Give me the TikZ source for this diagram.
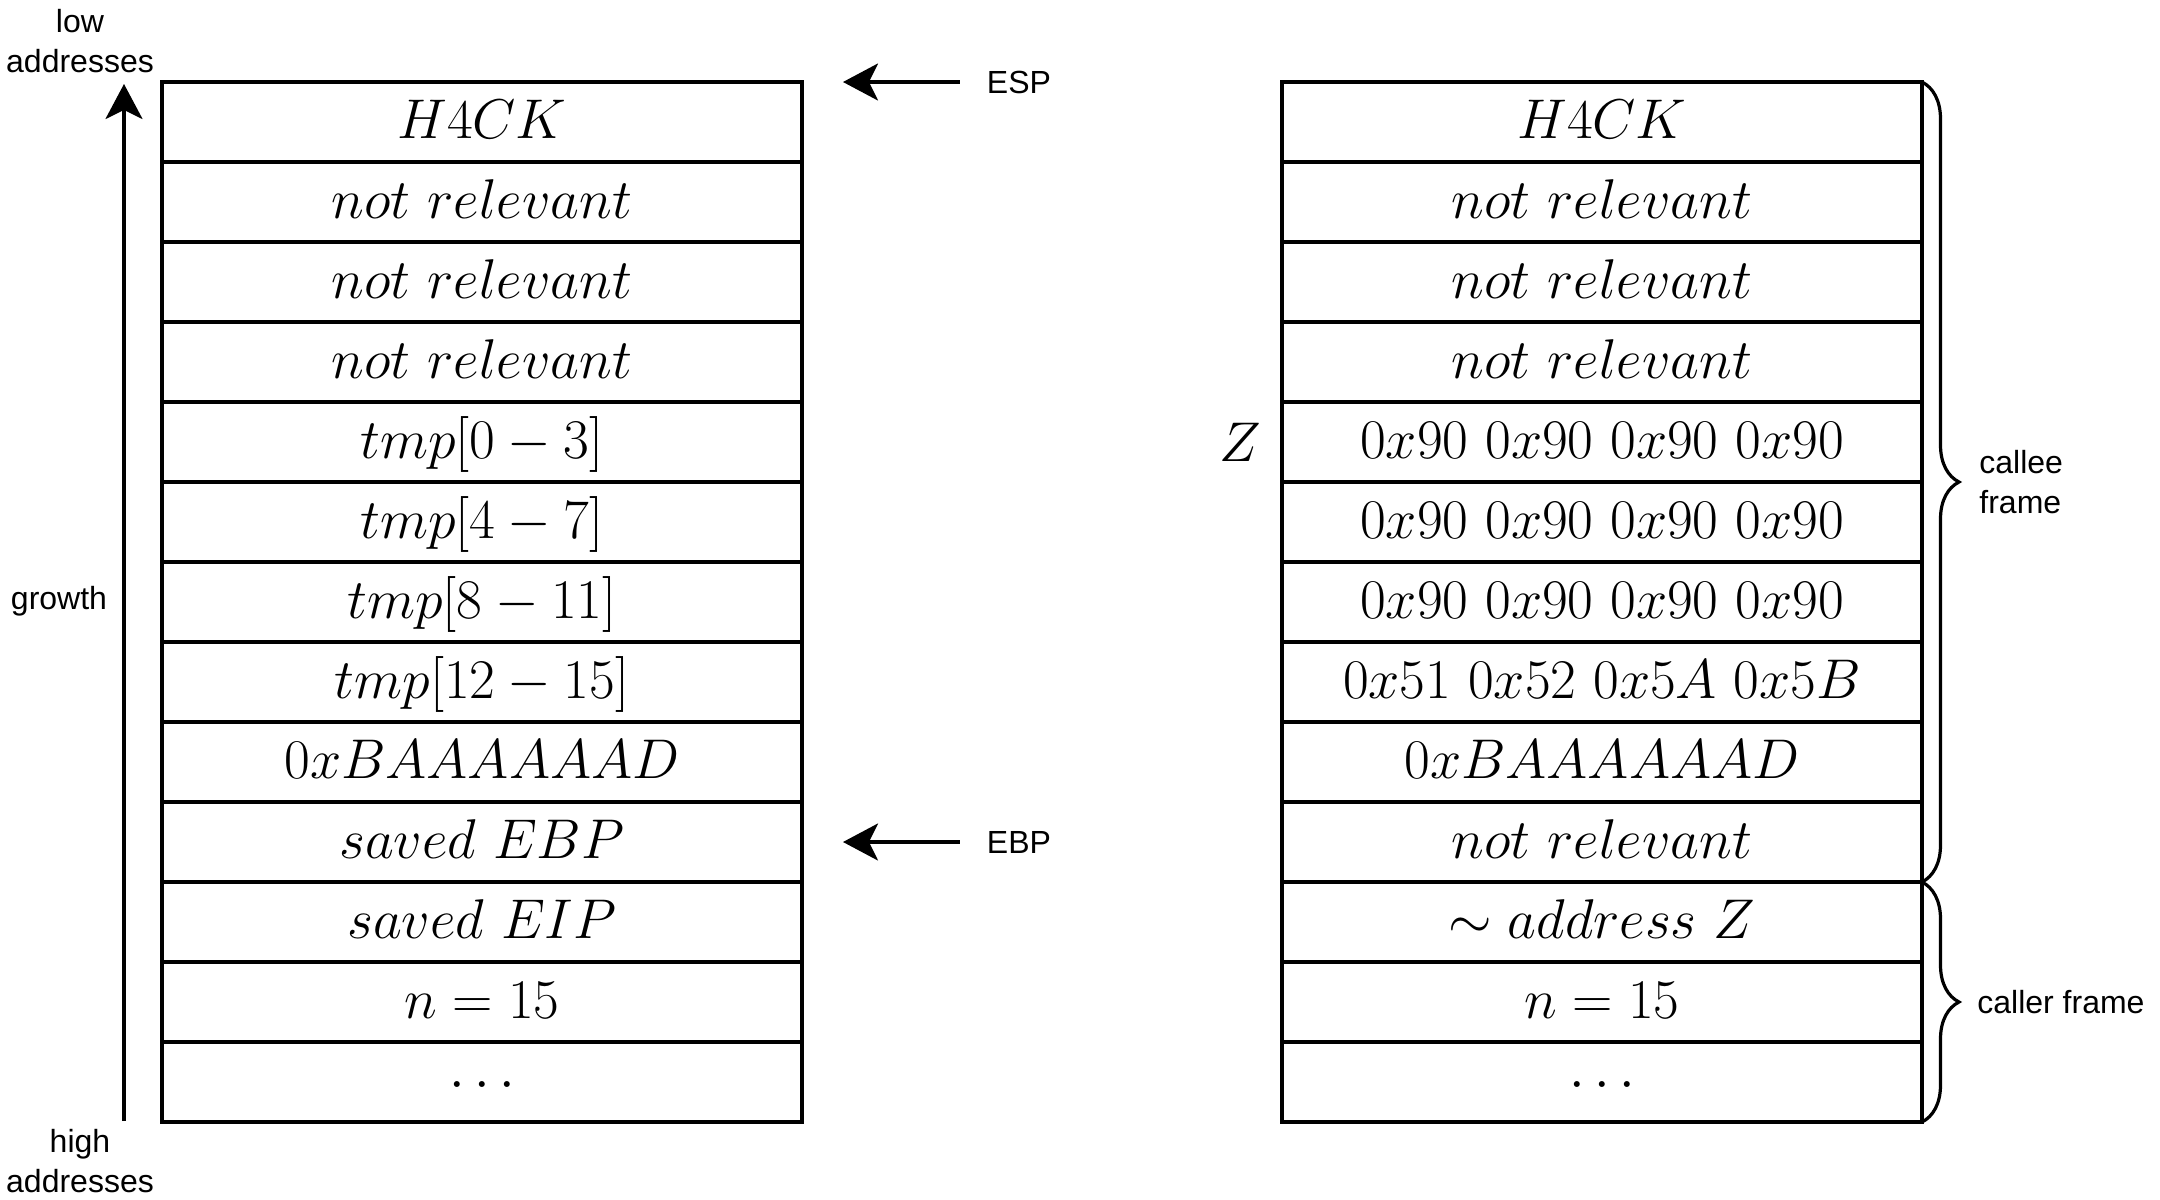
\RequirePackage{fix-cm}
\documentclass[tikz,border=0pt]{standalone}
\usepackage{fontspec}
\setsansfont{Liberation Sans}
\usepackage{tikz}
\usetikzlibrary{arrows.meta, decorations.pathreplacing, positioning}

\tikzset{
  cell/.style={draw, line width=1.6pt, minimum width=320pt, minimum height=40pt, inner sep=0pt, outer sep=0pt,
    text height=21pt, text depth=5pt, font=\fontsize{28}{34}\selectfont},
  note/.style={inner sep=0pt, align=center, font=\fontsize{16}{20}\selectfont\sffamily},
  addr/.style={inner sep=0pt, font=\fontsize{28}{34}\selectfont},
  ptr/.style={line width=1.6pt, -{Stealth[length=17.5pt, width=18.5pt, inset=4.5pt]}},
  frame brace/.style={line width=1.6pt, decorate, decoration={brace, amplitude=18.5pt}}
}

\begin{document}
\begin{tikzpicture}[x=0.5pt, y=-0.5pt]
  \useasboundingbox (0,0) rectangle (2160,1200);

  % stack before the overflow
  \path (482,122)  node[cell] (l0) {$H4CK$}
        (482,202)  node[cell] (l1) {$not\ relevant$}
        (482,282)  node[cell] (l2) {$not\ relevant$}
        (482,362)  node[cell] (l3) {$not\ relevant$}
        (482,442)  node[cell] (l4) {$tmp[0-3]$}
        (482,522)  node[cell] (l5) {$tmp[4-7]$}
        (482,602)  node[cell] (l6) {$tmp[8-11]$}
        (482,682)  node[cell] (l7) {$tmp[12-15]$}
        (482,762)  node[cell] (l8) {$0xBAAAAAAD$}
        (482,842)  node[cell] (l9) {$saved\ EBP$}
        (482,922)  node[cell] (l10) {$saved\ EIP$}
        (482,1002) node[cell] (l11) {$n = 15$}
        (482,1082) node[cell] (l12) {$\cdots$};

  % stack after the overflow
  \path (1602,122)  node[cell] (r0) {$H4CK$}
        (1602,202)  node[cell] (r1) {$not\ relevant$}
        (1602,282)  node[cell] (r2) {$not\ relevant$}
        (1602,362)  node[cell] (r3) {$not\ relevant$}
        (1602,442)  node[cell] (r4) {$0x90\ 0x90\ 0x90\ 0x90$}
        (1602,522)  node[cell] (r5) {$0x90\ 0x90\ 0x90\ 0x90$}
        (1602,602)  node[cell] (r6) {$0x90\ 0x90\ 0x90\ 0x90$}
        (1602,682)  node[cell] (r7) {$0x51\ 0x52\ 0x5A\ 0x5B$}
        (1602,762)  node[cell] (r8) {$0xBAAAAAAD$}
        (1602,842)  node[cell] (r9) {$not\ relevant$}
        (1602,922)  node[cell] (r10) {$\sim address\ Z$}
        (1602,1002) node[cell] (r11) {$n = 15$}
        (1602,1082) node[cell] (r12) {$\cdots$};
  \draw[line width=2.4pt] (r0.north east) -- (r12.south east);

  % growth direction
  \node[note] (low) at (80,41) {low\\addresses};
  \node[note] (high) at (80,1161) {high\\addresses};
  \node[note] (growth) at (59,601) {growth};
  \coordinate (gbot) at (124,1121);
  \coordinate (gtop) at (124,84);
  \draw[ptr] (gbot) -- (gtop);

  % registers
  \node[note] (esp) at (1019,82) {ESP};
  \node[note] (ebp) at (1019,842) {EBP};
  \draw[ptr, shorten <=13.5pt, shorten >=20.5pt] (esp.west) -- (l0.north east);
  \draw[ptr, shorten <=13.5pt, shorten >=20.5pt] (ebp.west) -- (l9.east);

  \node[addr] (z) at (1240,442) {$Z$};

  % frames
  \draw[frame brace] (r0.north east) -- (r9.south east);
  \draw[frame brace] (r10.north east) -- (r12.south east);
  \node[note, align=left, anchor=west] (callee) at (1979,482) {callee\\frame};
  \node[note, anchor=west] (caller) at (1977,1002) {caller frame};
\end{tikzpicture}
\end{document}
